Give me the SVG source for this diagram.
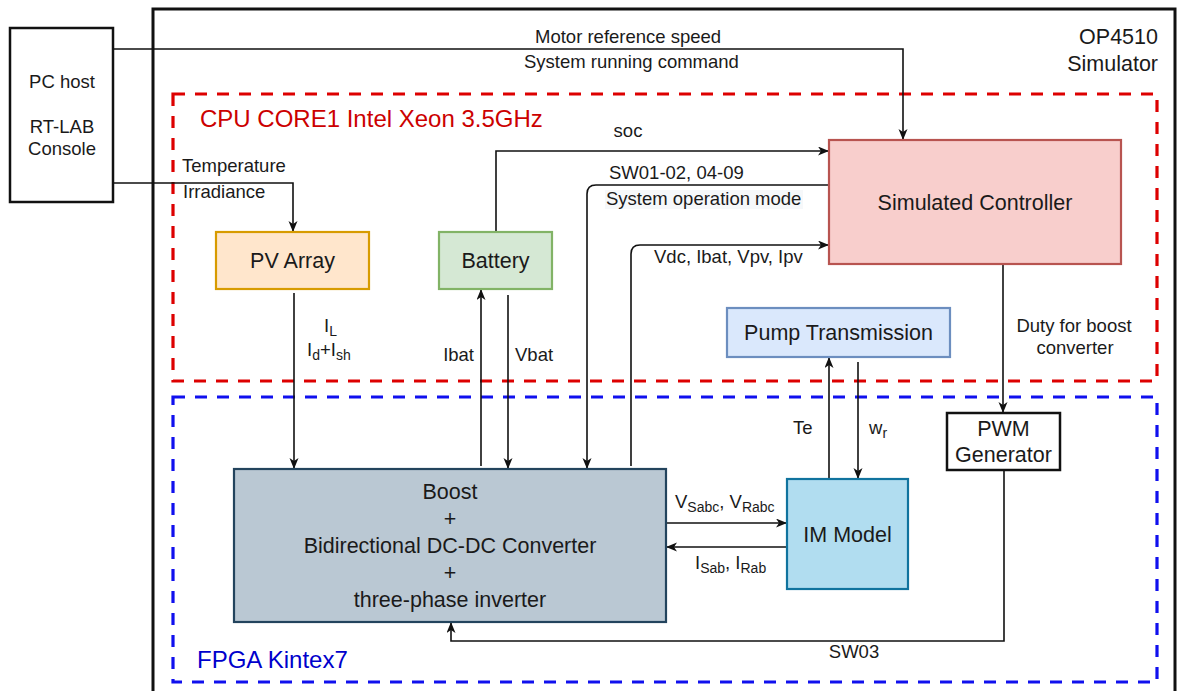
<svg xmlns="http://www.w3.org/2000/svg" width="1177" height="691" viewBox="0 0 1177 691">
  <style>
    text { font-family: "Liberation Sans", Arial, sans-serif; fill: #1a1a1a; }
    .lbl { font-size: 18.5px; }
    .sub { font-size: 14px; }
    .node { font-size: 21.5px; text-anchor: middle; }
    .wire { fill: none; stroke: #111; stroke-width: 1.6; }
    .arr { marker-end: url(#arrow); }
    .box { stroke-width: 2.2; }
  </style>
  <defs>
    <marker id="arrow" markerUnits="userSpaceOnUse" markerWidth="12" markerHeight="10" refX="11" refY="4.5" orient="auto">
      <path d="M0,0 L11,4.5 L0,9 L3,4.5 z" fill="#111"/>
    </marker>
  </defs>

  <rect width="1177" height="691" fill="#ffffff"/>

  <!-- simulator enclosure -->
  <g id="op4510">
    <rect x="153" y="9" width="1022" height="700" fill="none" stroke="#111" stroke-width="3"/>
    <text x="1158" y="44" font-size="21.5px" text-anchor="end">OP4510</text>
    <text x="1158" y="71" font-size="21.5px" text-anchor="end">Simulator</text>
  </g>

  <!-- processing regions -->
  <g id="cpu-core">
    <rect x="173" y="94" width="984" height="287" fill="none" stroke="#dd0000" stroke-width="3.2" stroke-dasharray="12 10"/>
    <text x="200" y="127" font-size="24px" style="fill:#cc0000">CPU CORE1 Intel Xeon 3.5GHz</text>
  </g>
  <g id="fpga">
    <rect x="173" y="397" width="984" height="285" fill="none" stroke="#1010ee" stroke-width="3.2" stroke-dasharray="12 10"/>
    <text x="197" y="668" font-size="24px" style="fill:#0000cc">FPGA Kintex7</text>
  </g>

  <!-- connectors -->
  <g id="connectors">
    <path class="wire arr" d="M113,49 L903,49 L903,140"/>
    <path class="wire arr" d="M113,183 L293,183 L293,232"/>
    <path class="wire arr" d="M496,232 L496,151 L829,151"/>
    <path class="wire arr" d="M829,185 L596,185 Q587,185 587,194 L587,469"/>
    <path class="wire arr" d="M631,466 L631,254 Q631,245 640,245 L829,245"/>
    <path class="wire arr" d="M1003,264 L1003,413"/>
    <path class="wire arr" d="M294,293 L294,469"/>
    <path class="wire arr" d="M481,466 L481,289"/>
    <path class="wire arr" d="M508,295 L508,469"/>
    <path class="wire arr" d="M829,479 L829,357"/>
    <path class="wire arr" d="M858,362 L858,479"/>
    <path class="wire arr" d="M666,523 L787,523"/>
    <path class="wire arr" d="M787,547 L666,547"/>
    <path class="wire arr" d="M1004,470 L1004,641 L451,641 L451,622"/>

    <!-- connector labels -->
    <text class="lbl" x="535" y="43">Motor reference speed</text>
    <text class="lbl" x="524" y="68">System running command</text>
    <text class="lbl" x="182" y="172">Temperature</text>
    <text class="lbl" x="183" y="198">Irradiance</text>
    <text class="lbl" x="628" y="137" text-anchor="middle">soc</text>
    <text class="lbl" x="609" y="179">SW01-02, 04-09</text>
    <rect x="605" y="190" width="198" height="19" fill="#f6f8fa"/>
    <text class="lbl" x="606" y="205">System operation mode</text>
    <text class="lbl" x="654" y="263">Vdc, Ibat, Vpv, Ipv</text>
    <text class="lbl" x="324" y="332">I<tspan class="sub" dy="4">L</tspan></text>
    <text class="lbl" x="307" y="356">I<tspan class="sub" dy="4">d</tspan><tspan dy="-4">+I</tspan><tspan class="sub" dy="4">sh</tspan></text>
    <text class="lbl" x="474" y="361" text-anchor="end">Ibat</text>
    <text class="lbl" x="515" y="361">Vbat</text>
    <text class="lbl" x="1074" y="332" text-anchor="middle">Duty for boost</text>
    <text class="lbl" x="1075" y="354" text-anchor="middle">converter</text>
    <text class="lbl" x="793" y="434">Te</text>
    <text class="lbl" x="869" y="434">w<tspan class="sub" dy="4">r</tspan></text>
    <text class="lbl" x="675" y="508">V<tspan class="sub" dy="4">Sabc</tspan><tspan dy="-4">, V</tspan><tspan class="sub" dy="4">Rabc</tspan></text>
    <text class="lbl" x="695" y="569">I<tspan class="sub" dy="4">Sab</tspan><tspan dy="-4">, I</tspan><tspan class="sub" dy="4">Rab</tspan></text>
    <text class="lbl" x="854" y="658" text-anchor="middle">SW03</text>
  </g>

  <!-- nodes -->
  <g id="pc-host">
    <rect x="10" y="28" width="103" height="174" fill="#ffffff" stroke="#111" stroke-width="2.5"/>
    <text x="62" y="88" font-size="18.5px" text-anchor="middle">PC host</text>
    <text x="62" y="133" font-size="18.5px" text-anchor="middle">RT-LAB</text>
    <text x="62" y="155" font-size="18.5px" text-anchor="middle">Console</text>
  </g>
  <g id="pv-array">
    <rect class="box" x="216" y="232" width="153" height="57" fill="#ffe6cc" stroke="#d79b00"/>
    <text class="node" x="292.5" y="268">PV Array</text>
  </g>
  <g id="battery">
    <rect class="box" x="439" y="232" width="113" height="57" fill="#d5e8d4" stroke="#82b366"/>
    <text class="node" x="495.5" y="268">Battery</text>
  </g>
  <g id="simulated-controller">
    <rect class="box" x="829" y="140" width="292" height="124" fill="#f8cecc" stroke="#b85450"/>
    <text class="node" x="975" y="210">Simulated Controller</text>
  </g>
  <g id="pump-transmission">
    <rect class="box" x="727" y="308" width="223" height="49" fill="#dae8fc" stroke="#6c8ebf"/>
    <text class="node" x="838.5" y="340">Pump Transmission</text>
  </g>
  <g id="pwm-generator">
    <rect x="947" y="413" width="113" height="57" fill="#ffffff" stroke="#111" stroke-width="2.5"/>
    <text class="node" x="1003.5" y="436">PWM</text>
    <text class="node" x="1003.5" y="462">Generator</text>
  </g>
  <g id="im-model">
    <rect class="box" x="787" y="479" width="121" height="110" fill="#b1ddf0" stroke="#10739e"/>
    <text class="node" x="847.5" y="542">IM Model</text>
  </g>
  <g id="power-stage">
    <rect class="box" x="234" y="469" width="432" height="153" fill="#bac8d3" stroke="#23445d"/>
    <text class="node" x="450" y="499">Boost</text>
    <text class="node" x="450" y="526">+</text>
    <text class="node" x="450" y="553">Bidirectional DC-DC Converter</text>
    <text class="node" x="450" y="580">+</text>
    <text class="node" x="450" y="607">three-phase inverter</text>
  </g>
</svg>
